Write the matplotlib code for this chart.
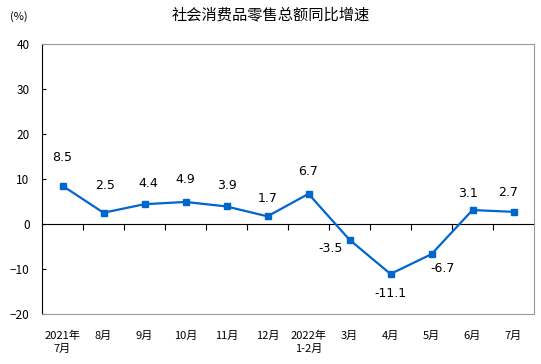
import matplotlib.pyplot as plt

plt.rcParams['font.family'] = ['Noto Sans CJK SC', 'DejaVu Sans']

# 数据
months = ["2021年\n7月", "8月", "9月", "10月", "11月", "12月",
          "2022年\n1-2月", "3月", "4月", "5月", "6月", "7月"]
growth = [8.5, 2.5, 4.4, 4.9, 3.9, 1.7, 6.7, -3.5, -11.1, -6.7, 3.1, 2.7]
# 标签偏移（像素）
label_dx = [0, 2, 4, 0, 0, 0, 0, -19, 0, 11, -5, -5]
label_dy = [28, 27, 21, 22, 21, 18, 22, -9, -20, -14, 17, 19]

fig = plt.figure(figsize=(5.41, 3.64), dpi=100)
ax = fig.add_axes([42 / 541, 1 - 314 / 364, 492 / 541, 270 / 364])

x = list(range(len(months)))
ax.plot(x, growth, color="#0066CC", linewidth=1.6, marker="s", markersize=5)

for i, v in enumerate(growth):
    ax.annotate(f"{v}", (i, v), xytext=(label_dx[i], label_dy[i]),
                textcoords="offset pixels", ha="center", va="center",
                fontsize=9, family="DejaVu Sans")

ax.set_xlim(-0.5, len(months) - 0.5)
ax.set_ylim(-20, 40)
ax.set_yticks(range(-20, 41, 10))
ax.tick_params(axis="y", direction="in", length=3, pad=9, labelsize=8.5)
ax.set_xticks(x)
ax.set_xticklabels(months, fontsize=8, linespacing=1.3)
ax.tick_params(axis="x", length=0, pad=12)

for s in ["top", "right", "bottom"]:
    ax.spines[s].set_color("#999999")
ax.spines["left"].set_color("black")

# 零线及刻度
zero = ax.secondary_xaxis(1 / 3)
zero.set_xticks([i + 0.5 for i in range(len(months) - 1)])
zero.tick_params(direction="out", length=4, labelbottom=False, color="black")
zero.set_xticklabels([])
zero.spines["bottom"].set_color("black")

fig.text(0.5, 1 - 15 / 364, "社会消费品零售总额同比增速", ha="center", va="center",
         fontsize=11)
fig.text(10 / 541, 1 - 17 / 364, "(%)", ha="left", va="center", fontsize=8)

fig.savefig("out.png", dpi=100)
